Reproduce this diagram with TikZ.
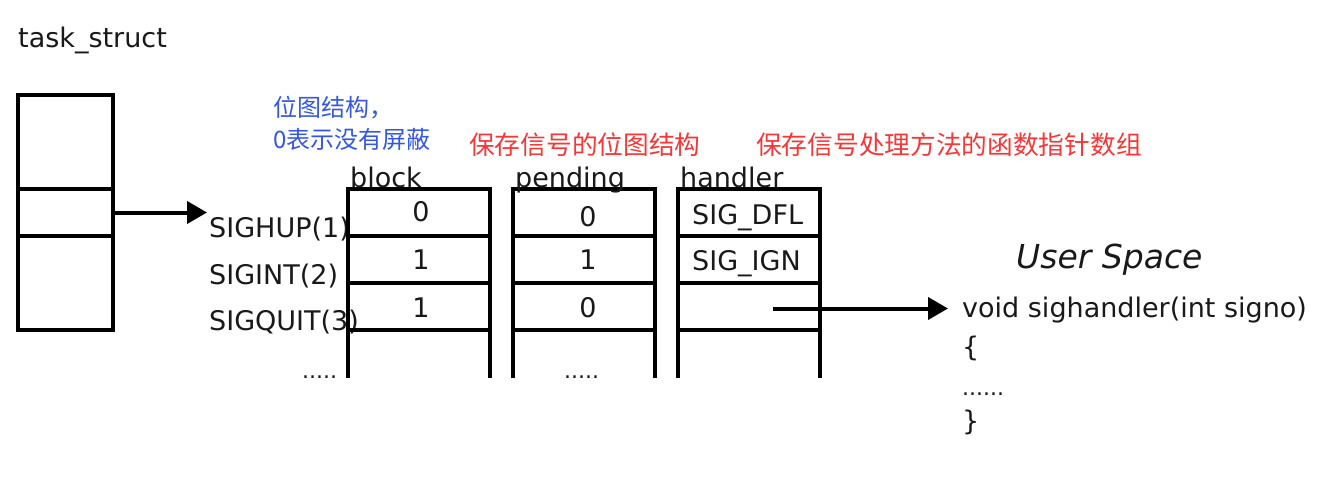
\documentclass[tikz,border=0pt]{standalone}
\usepackage{fontspec}
\setmainfont{DejaVu Sans}
\newfontfamily\cjk{Noto Sans CJK SC}
\usetikzlibrary{arrows.meta}
\definecolor{noteblue}{RGB}{52,88,222}
\definecolor{notered}{RGB}{245,55,55}
\definecolor{ink}{RGB}{25,25,25}
\begin{document}
\begin{tikzpicture}[x=1pt,y=-1pt,
  txt/.style={anchor=base west,inner sep=0pt,text=ink,font=\fontsize{27}{32}\selectfont},
  val/.style={anchor=base,inner sep=0pt,text=ink,font=\fontsize{27}{32}\selectfont},
  bluenote/.style={anchor=base west,inner sep=0pt,text=noteblue,font=\cjk\fontsize{24}{28}\selectfont},
  rednote/.style={anchor=base west,inner sep=0pt,text=notered,font=\cjk\fontsize{25.7}{30}\selectfont},
  frame/.style={draw=black,line width=4.2pt},
  cell/.style={draw=none,inner sep=0pt},
  ptr/.style={line width=4pt,-{Triangle[length=20pt,width=22pt]}},
  dots/.style={anchor=base west,inner sep=0pt,text=ink,font=\fontsize{22}{26}\selectfont}]
\useasboundingbox (0,0) rectangle (1331,484);

% task_struct
\node[txt] (tslabel) at (18,48) {task\_struct};
\draw[frame] (18,95) rectangle (113,330);
\draw[frame] (18,189) -- (113,189);
\draw[frame] (18,236) -- (113,236);
\node[cell,minimum width=95pt,minimum height=47pt] (ts2) at (65.5,212.5) {};
\coordinate (sigtip) at (207,212.5);
\draw[ptr] (ts2.east) -- (sigtip);

% signal names
\node[txt] (sighup) at (209,237) {SIGHUP(1)};
\node[txt] (sigint) at (209,284) {SIGINT(2)};
\node[txt] (sigquit) at (209,330) {SIGQUIT(3)};
\node[dots] (dotsl) at (302,378) {.....};

% columns
\foreach \xl/\xr in {348/490, 513/655, 678/820}{
  \draw[frame] (\xl,378) -- (\xl,189) -- (\xr,189) -- (\xr,378);
  \foreach \yy in {236,283,330}{\draw[frame] (\xl,\yy) -- (\xr,\yy);}
}
\node[txt] (blockl) at (350,188) {block};
\node[txt] (pendl) at (515,188) {pending};
\node[txt] (handl) at (680,188) {handler};

% block values
\node[val] (b1) at (421,222) {0};
\node[val] (b2) at (421,269) {1};
\node[val] (b3) at (421,317) {1};
% pending values
\node[val] (p1) at (588,226) {0};
\node[val] (p2) at (588,269) {1};
\node[val] (p3) at (588,317) {0};
\node[dots] (dotsp) at (564,378) {.....};
% handler values
\node[txt] (h1) at (692,224) {SIG\_DFL};
\node[txt] (h2) at (692,270) {SIG\_IGN};
\node[cell,minimum width=142pt,minimum height=47pt] (h3) at (749,306.5) {};

% user space
\node[txt,font=\fontsize{33}{38}\selectfont\itshape] (us) at (1016,268) {User Space};
\node[txt] (voidl) at (962,317) {void sighandler(int signo)};
\node[txt] (lbrace) at (962,356) {\{};
\node[dots] (dotsu) at (962,395) {......};
\node[txt] (rbrace) at (962,430) {\}};
\coordinate (hstart) at (773,308.5);
\coordinate (htip) at (948,308.5);
\draw[ptr] (hstart) -- (htip);

% notes
\node[bluenote] (n1) at (273,117) {位图结构，};
\node[bluenote] (n2) at (273,149) {0表示没有屏蔽};
\node[rednote] (n3) at (469,155) {保存信号的位图结构};
\node[rednote] (n4) at (756,155) {保存信号处理方法的函数指针数组};
\end{tikzpicture}
\end{document}
